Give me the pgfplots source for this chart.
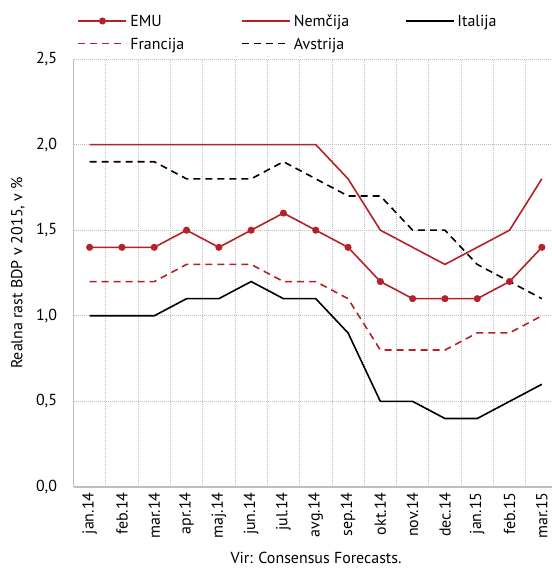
\documentclass[border=0pt]{standalone}
\usepackage{fontspec}
\setmainfont{PT Sans}
\usepackage{pgfplots}
\pgfplotsset{compat=1.18}
\definecolor{emured}{RGB}{178,34,40}
\definecolor{gridgray}{RGB}{190,190,190}
\newcommand\lgd[1]{\hspace{3bp}\makebox[111bp][l]{\strut #1}}

\begin{document}
\fontsize{16}{19}\selectfont
\begin{tikzpicture}
\path[use as bounding box] (0,0) rectangle (552bp,570bp);
\begin{axis}[
    at={(73.5bp,83bp)}, anchor=south west,
    scale only axis,
    width=484.5bp, height=428bp,
    xmin=-0.5, xmax=14.5,
    ymin=0, ymax=2.5,
    xtick={0,...,14},
    xticklabels={jan.14,feb.14,mar.14,apr.14,maj.14,jun.14,jul.14,avg.14,sep.14,okt.14,nov.14,dec.14,jan.15,feb.15,mar.15},
    minor xtick={0.5,1.5,...,13.5},
    ytick={0,0.5,...,2.5},
    xminorgrids, ymajorgrids,
    major tick length=0pt, minor tick length=0pt,
    grid style={gridgray, line width=0.8bp, dash pattern=on 1bp off 1bp},
    minor grid style={gridgray, line width=0.8bp, dash pattern=on 1bp off 1bp},
    axis x line*=bottom, axis y line*=left,
    axis line style={-, gridgray, line width=1.3bp},
    x tick label style={rotate=90, anchor=east, font=\fontsize{16}{19}\selectfont},
    y tick label style={xshift=-11bp, font=\fontsize{16}{19}\selectfont},
    /pgf/number format/.cd, fixed, fixed zerofill, precision=1, use comma, assume math mode=true,
    /pgfplots/.cd,
    every axis plot/.append style={line width=1.6bp},
    legend image code/.code={\draw[mark repeat=2,mark phase=2,#1] plot coordinates {(0bp,0bp) (24bp,0bp) (48bp,0bp)};},
    legend columns=3,
    legend cell align=left,
    legend style={draw=none, fill=none, at={(axis description cs:0,1)}, anchor=north west,
        xshift=1bp, yshift=48bp, nodes={inner sep=0pt}, row sep=7bp,
        font=\fontsize{16}{19}\selectfont},
]
\addplot[emured, mark=*, mark size=2.7bp] coordinates {
 (0,1.4) (1,1.4) (2,1.4) (3,1.5) (4,1.4) (5,1.5) (6,1.6) (7,1.5)
 (8,1.4) (9,1.2) (10,1.1) (11,1.1) (12,1.1) (13,1.2) (14,1.4)};
\addplot[emured, mark=none] coordinates {
 (0,2.0) (1,2.0) (2,2.0) (3,2.0) (4,2.0) (5,2.0) (6,2.0) (7,2.0)
 (8,1.8) (9,1.5) (10,1.4) (11,1.3) (12,1.4) (13,1.5) (14,1.8)};
\addplot[black, mark=none] coordinates {
 (0,1.0) (1,1.0) (2,1.0) (3,1.1) (4,1.1) (5,1.2) (6,1.1) (7,1.1)
 (8,0.9) (9,0.5) (10,0.5) (11,0.4) (12,0.4) (13,0.5) (14,0.6)};
\addplot[emured, mark=none, dash pattern=on 7bp off 5bp] coordinates {
 (0,1.2) (1,1.2) (2,1.2) (3,1.3) (4,1.3) (5,1.3) (6,1.2) (7,1.2)
 (8,1.1) (9,0.8) (10,0.8) (11,0.8) (12,0.9) (13,0.9) (14,1.0)};
\addplot[black, mark=none, dash pattern=on 7bp off 5bp] coordinates {
 (0,1.9) (1,1.9) (2,1.9) (3,1.8) (4,1.8) (5,1.8) (6,1.9) (7,1.8)
 (8,1.7) (9,1.7) (10,1.5) (11,1.5) (12,1.3) (13,1.2) (14,1.1)};
\legend{\lgd{EMU},\lgd{Nemčija},\lgd{Italija},\lgd{Francija},\lgd{Avstrija}}
\end{axis}
\node[rotate=90, anchor=center] at (18bp,297bp) {Realna rast BDP v 2015, v \%};
\node[anchor=center] at (316bp,12bp) {Vir: Consensus Forecasts.};
\end{tikzpicture}
\end{document}
